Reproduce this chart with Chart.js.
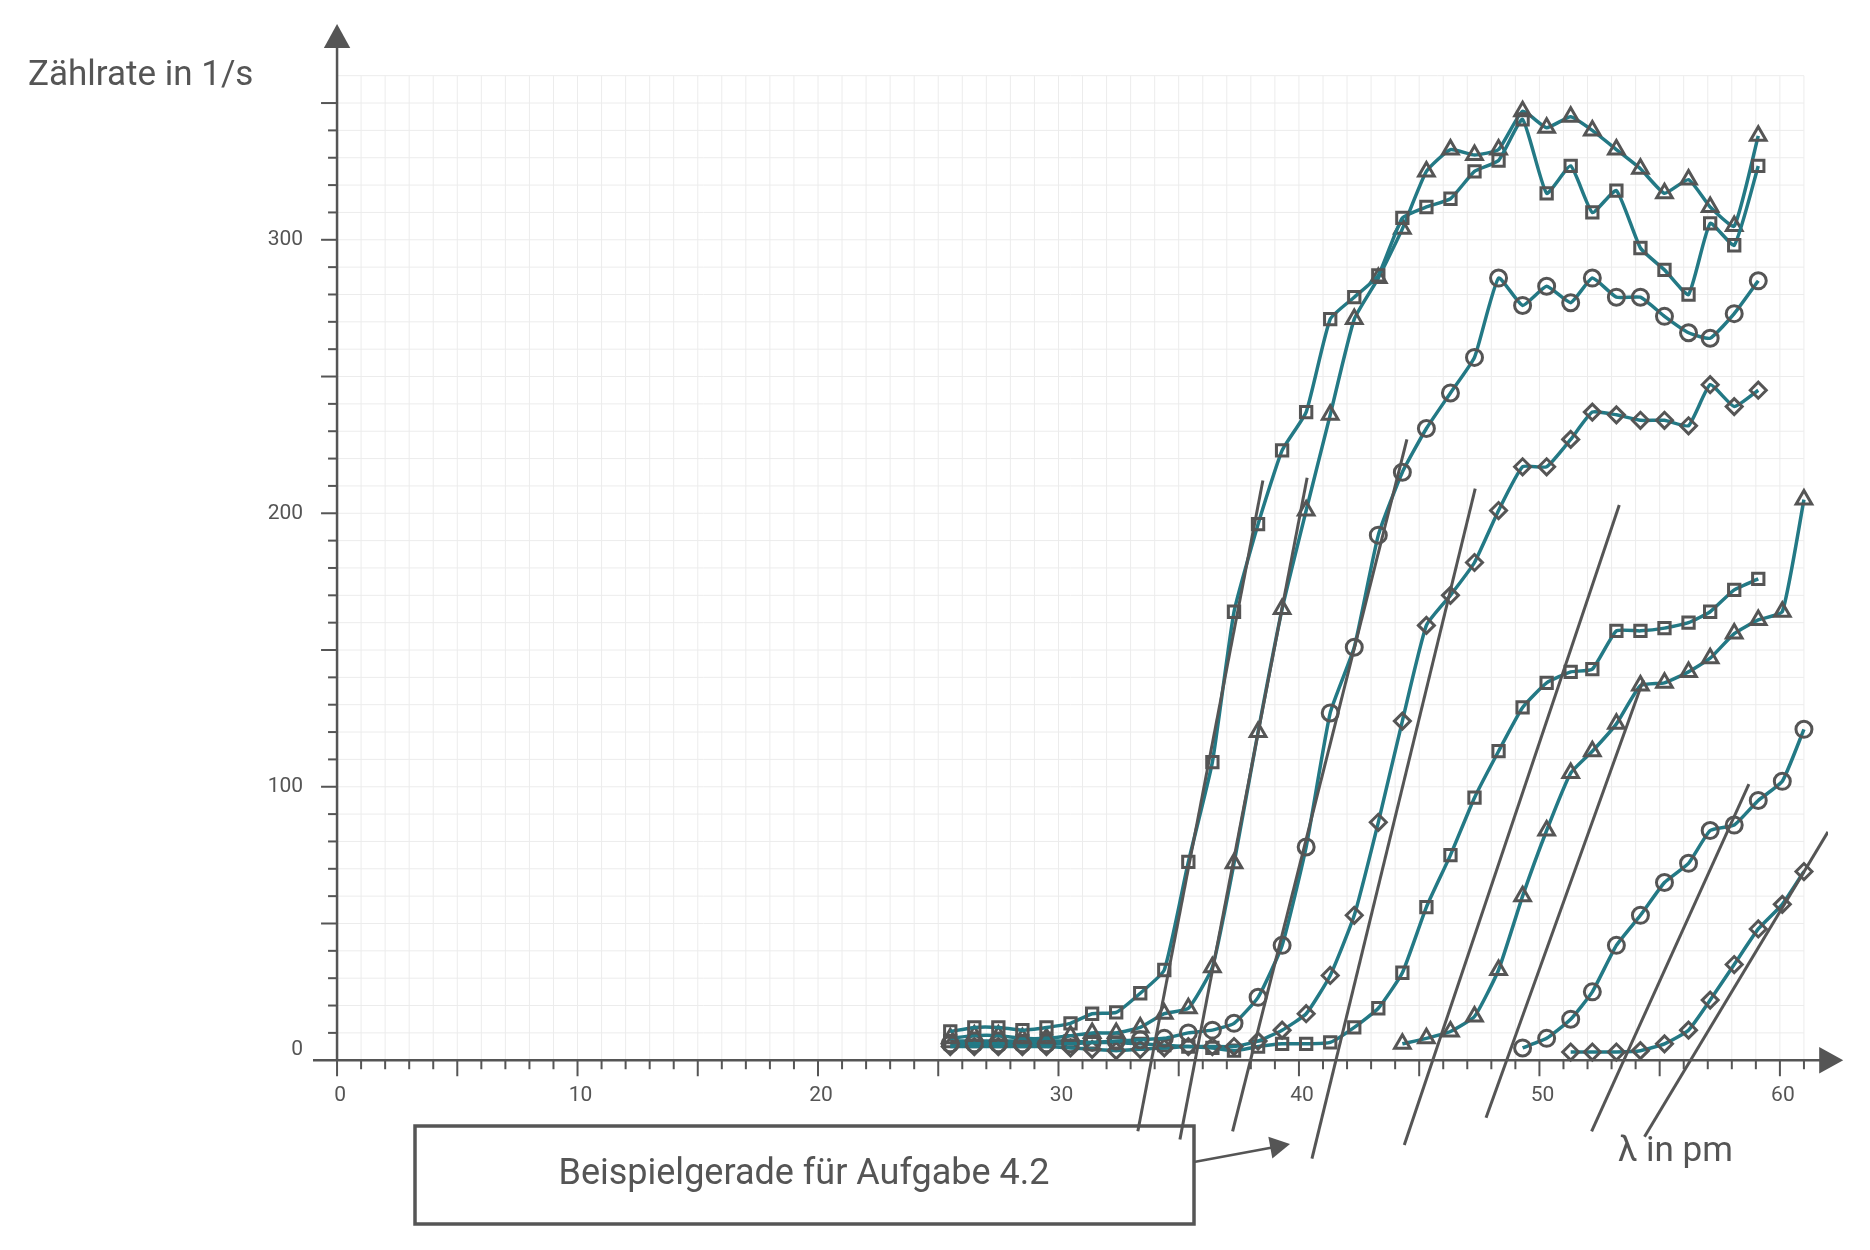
<!DOCTYPE html>
<html>
<head>
<meta charset="utf-8">
<script src="https://cdn.jsdelivr.net/npm/chart.js@4"></script>
<style>
  html, body { margin: 0; padding: 0; background: #fff; }
  #wrap { width: 1870px; height: 1250px; }
</style>
</head>
<body>
<div id="wrap"><canvas id="myChart"></canvas></div>
<script>
// wavelengths in pm
const lambdaA = [25.5, 26.5, 27.5, 28.5, 29.5, 30.5, 31.4, 32.4, 33.4, 34.4, 35.4, 36.4, 37.3, 38.3, 39.3, 40.3, 41.3, 42.3, 43.3, 44.3, 45.3, 46.3, 47.3, 48.3, 49.3, 50.3, 51.3, 52.2, 53.2, 54.2, 55.2, 56.2, 57.1, 58.1, 59.1]
const lambdaTriB = [44.3, 45.3, 46.3, 47.3, 48.3, 49.3, 50.3, 51.3, 52.2, 53.2, 54.2, 55.2, 56.2, 57.1, 58.1, 59.1, 60.1, 61.0]
const lambdaCircB = [49.3, 50.3, 51.3, 52.2, 53.2, 54.2, 55.2, 56.2, 57.1, 58.1, 59.1, 60.1, 61.0]
const lambdaDiaB = [51.3, 52.2, 53.2, 54.2, 55.2, 56.2, 57.1, 58.1, 59.1, 60.1, 61.0]

// count rates in 1/s
const squareA = [10.5, 12, 12, 11, 12, 13.5, 17, 17.5, 24.5, 33, 72.5, 109, 164, 196, 223, 237, 271, 279, 287, 308, 312, 315, 325, 329, 344, 317, 327, 310, 318, 297, 289, 280, 306, 298, 327]
const triangleA = [8, 9, 9, 8, 8, 9, 10, 10, 12, 17, 19, 34, 72, 120, 165, 201, 236, 271, 286, 304, 325, 333, 331, 333, 347, 341, 345, 340, 333, 326, 317, 322, 312, 305, 338]
const circleA = [6, 6, 6, 6, 6, 6, 6.5, 7, 7.5, 8, 10, 11, 13.5, 23, 42, 78, 127, 151, 192, 215, 231, 244, 257, 286, 276, 283, 277, 286, 279, 279, 272, 266, 264, 273, 285]
const diamondA = [5, 5, 5, 5, 5, 4.5, 4, 3.5, 4, 4.5, 5, 5, 5, 7, 11, 17, 31, 53, 87, 124, 159, 170, 182, 201, 217, 217, 227, 237, 236, 234, 234, 232, 247, 239, 245]
const squareB = [7, 7, 7, 7, 7, 7, 6.5, 6.5, 6, 5.5, 5, 4.5, 3.5, 5, 6, 6, 6.5, 12, 19, 32, 56, 75, 96, 113, 129, 138, 142, 143, 157, 157, 158, 160, 164, 172, 176]
const triangleB = [6, 8, 10.5, 16, 33, 60, 84, 105, 113, 123, 137, 138, 142, 147, 156, 161, 164, 205]
const circleB = [4.5, 8, 15, 25, 42, 53, 65, 72, 84, 86, 95, 102, 121]
const diamondB = [3, 3, 3, 3.5, 6, 11, 22, 35, 48, 57, 69]

// example straight lines [x1, y1, x2, y2]
const tangents = [
  [33.3, -26, 38.5, 212],
  [35.05, -29, 40.34, 213],
  [37.24, -26, 44.49, 227],
  [40.54, -36, 47.33, 209],
  [44.38, -31, 53.32, 203],
  [47.78, -21, 54.32, 139],
  [52.17, -26, 58.71, 101],
  [54.37, -28, 62.0, 83.5]
]

const xTickLabels = [0, 10, 20, 30, 40, 50, 60]
const yTickLabels = [0, 100, 200, 300]

const teal = '#237985'
const gray = '#555555'

function pts (xs, ys) {
  return xs.map((x, i) => ({ x, y: ys[i] }))
}

function series (xs, ys, style) {
  return {
    data: pts(xs, ys),
    borderColor: teal,
    borderWidth: 3.5,
    pointStyle: style,
    pointRadius: style === 'triangle' ? 9 : 8,
    pointBorderColor: gray,
    pointBackgroundColor: 'rgba(0,0,0,0)',
    pointBorderWidth: 3,
    tension: 0.15,
    order: 2
  }
}

const datasets = [
  series(lambdaA, squareA, 'rect'),
  series(lambdaA, triangleA, 'triangle'),
  series(lambdaA, circleA, 'circle'),
  series(lambdaA, diamondA, 'rectRot'),
  series(lambdaA, squareB, 'rect'),
  series(lambdaTriB, triangleB, 'triangle'),
  series(lambdaCircB, circleB, 'circle'),
  series(lambdaDiaB, diamondB, 'rectRot')
]
tangents.forEach((t) => {
  datasets.push({
    data: [{ x: t[0], y: t[1] }, { x: t[2], y: t[3] }],
    borderColor: gray,
    borderWidth: 3,
    pointRadius: 0,
    order: 1
  })
})

function arrowHead (ctx, x, y, angle, size) {
  ctx.save()
  ctx.translate(x, y)
  ctx.rotate(angle)
  ctx.beginPath()
  ctx.moveTo(0, 0)
  ctx.lineTo(-size, -size * 0.55)
  ctx.lineTo(-size, size * 0.55)
  ctx.closePath()
  ctx.fill()
  ctx.restore()
}

// grid, axes, labels and the note box
const decor = {
  id: 'decor',
  beforeDatasetsDraw (chart) {
    const ctx = chart.ctx
    const xs = chart.scales.x
    const ys = chart.scales.y
    ctx.save()
    ctx.strokeStyle = '#ececec'
    ctx.lineWidth = 1
    for (let v = 0; v <= 61; v++) {
      const px = xs.getPixelForValue(v)
      ctx.beginPath()
      ctx.moveTo(px, ys.getPixelForValue(0))
      ctx.lineTo(px, ys.getPixelForValue(360))
      ctx.stroke()
    }
    for (let v = 0; v <= 360; v += 10) {
      const py = ys.getPixelForValue(v)
      ctx.beginPath()
      ctx.moveTo(xs.getPixelForValue(0), py)
      ctx.lineTo(xs.getPixelForValue(61), py)
      ctx.stroke()
    }
    ctx.restore()
  },
  afterDatasetsDraw (chart) {
    const ctx = chart.ctx
    const xs = chart.scales.x
    const ys = chart.scales.y
    const x0 = xs.getPixelForValue(0)
    const y0 = ys.getPixelForValue(0)
    ctx.save()
    ctx.strokeStyle = gray
    ctx.fillStyle = gray
    ctx.lineWidth = 2.5
    // x axis
    const xEnd = xs.getPixelForValue(62.3)
    ctx.beginPath()
    ctx.moveTo(xs.getPixelForValue(-1), y0)
    ctx.lineTo(xEnd - 10, y0)
    ctx.stroke()
    arrowHead(ctx, xEnd + 8, y0, 0, 24)
    // y axis
    const yEnd = ys.getPixelForValue(376)
    ctx.beginPath()
    ctx.moveTo(x0, y0)
    ctx.lineTo(x0, yEnd + 10)
    ctx.stroke()
    arrowHead(ctx, x0, yEnd - 8, -Math.PI / 2, 24)
    // ticks
    ctx.lineWidth = 2
    for (let v = 0; v <= 61; v++) {
      const px = xs.getPixelForValue(v)
      const len = v % 5 === 0 ? 16 : 9
      ctx.beginPath()
      ctx.moveTo(px, y0)
      ctx.lineTo(px, y0 + len)
      ctx.stroke()
    }
    for (let v = 10; v <= 350; v += 10) {
      const py = ys.getPixelForValue(v)
      const len = v % 50 === 0 ? 16 : 9
      ctx.beginPath()
      ctx.moveTo(x0, py)
      ctx.lineTo(x0 - len, py)
      ctx.stroke()
    }
    ctx.font = '21px Roboto'
    ctx.textAlign = 'center'
    ctx.textBaseline = 'top'
    xTickLabels.forEach((v) => {
      ctx.fillText(String(v), xs.getPixelForValue(v) + 3, y0 + 25)
    })
    ctx.textAlign = 'right'
    ctx.textBaseline = 'middle'
    yTickLabels.forEach((v) => {
      ctx.fillText(String(v), x0 - 34, ys.getPixelForValue(v) - (v === 0 ? 10 : 0))
    })
    // axis titles
    ctx.font = '35px Roboto'
    ctx.textAlign = 'left'
    ctx.fillText('Zählrate in 1/s', 28, 76)
    ctx.fillText('λ in pm', 1618, 1152)
    // note box with arrow
    ctx.lineWidth = 3.5
    ctx.strokeRect(415, 1126, 779, 98)
    ctx.textAlign = 'center'
    ctx.font = '36px Roboto'
    ctx.fillText('Beispielgerade für Aufgabe 4.2', 804, 1175)
    ctx.lineWidth = 2.5
    ctx.beginPath()
    ctx.moveTo(1194, 1162)
    ctx.lineTo(1275, 1147)
    ctx.stroke()
    arrowHead(ctx, 1290, 1144, Math.atan2(-15, 81), 20)
    ctx.restore()
  }
}

const ctx = document.getElementById('myChart').getContext('2d')
const myChart = new Chart(ctx, {
  type: 'line',
  data: { datasets },
  options: {
    responsive: true,
    maintainAspectRatio: false,
    animation: false,
    layout: { padding: { left: 313, right: 42, top: 21, bottom: 9 } },
    plugins: { legend: { display: false }, tooltip: { enabled: false } },
    scales: {
      x: { type: 'linear', min: -1, max: 62, display: false },
      y: { type: 'linear', min: -65, max: 380, display: false }
    }
  },
  plugins: [decor]
})
</script>
</body>
</html>
